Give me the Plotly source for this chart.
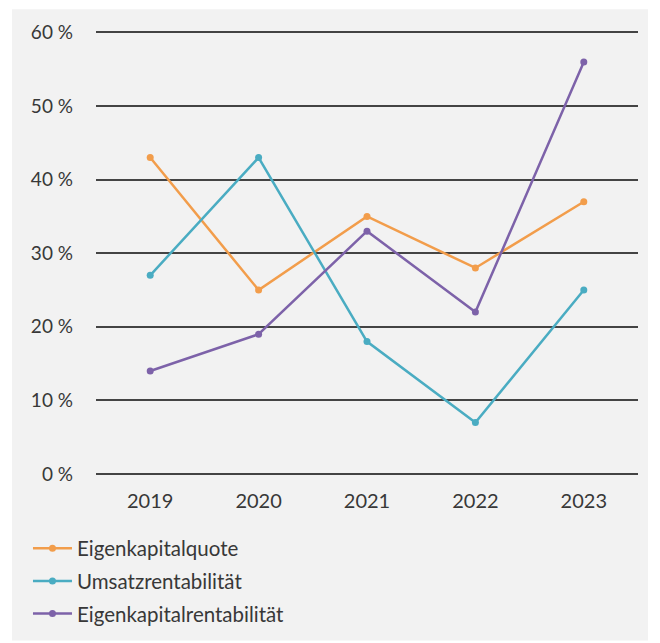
import plotly.graph_objects as go

years = ["2019", "2020", "2021", "2022", "2023"]
eigenkapitalquote = [43, 25, 35, 28, 37]
umsatzrentabilitaet = [27, 43, 18, 7, 25]
eigenkapitalrentabilitaet = [14, 19, 33, 22, 56]
y_ticks = [0, 10, 20, 30, 40, 50, 60]
y_tick_labels = ["0 %", "10 %", "20 %", "30 %", "40 %", "50 %", "60 %"]

series = [
    ("Eigenkapitalquote", eigenkapitalquote, "#F29D4B"),
    ("Umsatzrentabilität", umsatzrentabilitaet, "#4AACC2"),
    ("Eigenkapitalrentabilität", eigenkapitalrentabilitaet, "#7D62A9"),
]

fig = go.Figure()
for i, (name, vals, col) in enumerate(series):
    fig.add_trace(go.Scatter(
        x=years, y=vals, name=name, mode="lines+markers",
        line=dict(color=col, width=2.5),
        marker=dict(color=col, size=7),
        legendgroup=f"g{i}",
    ))

fig.update_layout(
    width=660, height=643,
    margin=dict(l=88, r=30, t=19, b=177),
    paper_bgcolor="white",
    plot_bgcolor="rgba(0,0,0,0)",
    font=dict(family="Lato, sans-serif", size=19, color="#383838"),
    showlegend=True,
    legend=dict(
        orientation="v", x=-0.1255, y=-0.123, xanchor="left", yanchor="top",
        bgcolor="rgba(0,0,0,0)", tracegroupgap=3, itemwidth=39,
        font=dict(size=20.5, color="#383838"),
    ),
    shapes=[dict(
        type="rect", xref="paper", yref="paper",
        x0=-0.155, x1=1.0185, y0=-0.376, y1=1.049,
        fillcolor="#F2F2F2", line=dict(width=0), layer="below",
    )],
)
fig.update_xaxes(
    type="category", range=[-0.5, 4.5], showgrid=False, showline=False,
    zeroline=False, ticks="", ticklabelstandoff=13,
    tickfont=dict(size=20, color="#383838"),
)
fig.update_yaxes(
    range=[0, 60.2], tickvals=y_ticks, ticktext=y_tick_labels,
    showgrid=True, gridcolor="#444444", gridwidth=2,
    zeroline=True, zerolinecolor="#444444", zerolinewidth=2,
    showline=False, ticks="", ticklabelstandoff=22,
    tickfont=dict(size=19, color="#383838"),
)

fig.write_html("out.html")
